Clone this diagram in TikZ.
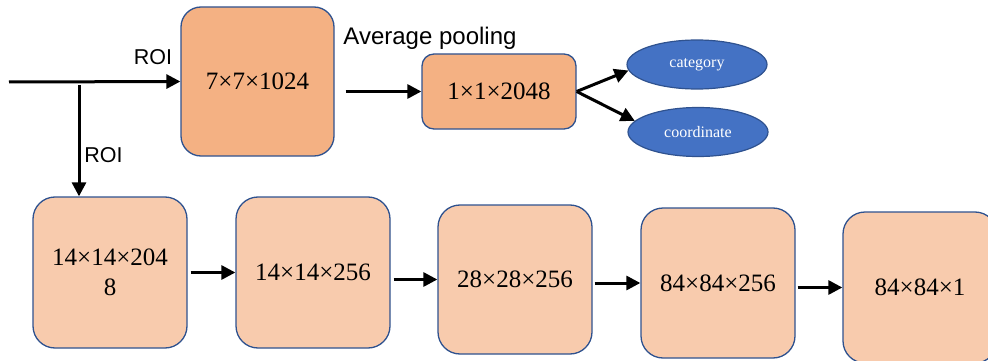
\documentclass[tikz,border=0pt]{standalone}
\usepackage{fontspec}
\setmainfont{Liberation Serif}
\newfontfamily\sansf{Liberation Sans}
\usetikzlibrary{arrows.meta,shapes.geometric,calc}
\definecolor{orangeA}{HTML}{F4B183}
\definecolor{orangeB}{HTML}{F8CBAD}
\definecolor{edgeblue}{HTML}{2F528F}
\definecolor{fillblue}{HTML}{4472C4}
\begin{document}
\begin{tikzpicture}[x=1pt,y=-1pt,
  box/.style={draw=edgeblue, line width=1.3pt, rounded corners=#1, inner sep=0pt,
    align=center, font=\fontsize{25}{30}\selectfont},
  box/.default=22pt,
  ell/.style={ellipse, draw=edgeblue, line width=1.2pt, fill=fillblue, text=white,
    minimum width=140pt, minimum height=49pt, inner sep=0pt,
    font=\fontsize{16}{19}\selectfont},
  lbl/.style={inner sep=0pt, font=\sansf\fontsize{21.5}{25}\selectfont},
  arr/.style={line width=3pt, -{Triangle[length=14pt,width=14pt]}}]
\useasboundingbox (0,0) rectangle (988,361);
\clip (0,0) rectangle (988,361);
% top row
\node[box=20pt, fill=orangeA, minimum width=153pt, minimum height=149pt] (t1) at (257.5,81.5) {7×7×1024};
\node[box=12pt, fill=orangeA, minimum width=154pt, minimum height=75pt] (pool) at (499,91.5) {1×1×2048};
\node[ell] (cat) at (697,64.5) {category};
\node[ell] (coord) at (698,132) {coordinate};
% bottom row
\node[box, fill=orangeB, minimum width=154pt, minimum height=151pt] (b1) at (110,272.5) {14×14×204\\8};
\node[box, fill=orangeB, minimum width=154pt, minimum height=151pt] (b2) at (313,272.5) {14×14×256};
\node[box, fill=orangeB, minimum width=154pt, minimum height=149pt] (b3) at (515,279.5) {28×28×256};
\node[box, fill=orangeB, minimum width=154pt, minimum height=150pt] (b4) at (718,283) {84×84×256};
\node[box, fill=orangeB, minimum width=154pt, minimum height=151pt] (b5) at (920,287.5) {84×84×1};
% labels
\node[lbl] (roi1) at (153,57) {ROI};
\node[lbl] (roi2) at (103.5,155) {ROI};
\node[lbl, font=\sansf\fontsize{24}{28}\selectfont] (avg) at (430,38) {Average pooling};
% connectors
\coordinate (in) at (9,82);
\coordinate (split) at (79,85);
\draw[arr] (in) -- (t1.west);
\draw[arr] (split) -- (split |- b1.north);
\coordinate (p1) at ($(t1.east)+(11,0)$);
\draw[arr] (p1 |- pool.west) -- (pool.west);
\draw[arr] (pool.east) -- (cat.185);
\draw[arr] (pool.east) -- (coord.170);
\coordinate (q1) at ($(b1.east)+(3,0)$);
\coordinate (q2) at ($(b2.east)+(3,0)$);
\coordinate (q3) at ($(b3.east)+(2,0)$);
\coordinate (q4) at ($(b4.east)+(2,0)$);
\draw[arr] (q1 |- b2.west) -- (b2.west);
\draw[arr] (q2 |- b3.west) -- (b3.west);
\draw[arr] (q3 |- b4.west) -- (b4.west);
\draw[arr] (q4 |- b5.west) -- (b5.west);
\end{tikzpicture}
\end{document}
